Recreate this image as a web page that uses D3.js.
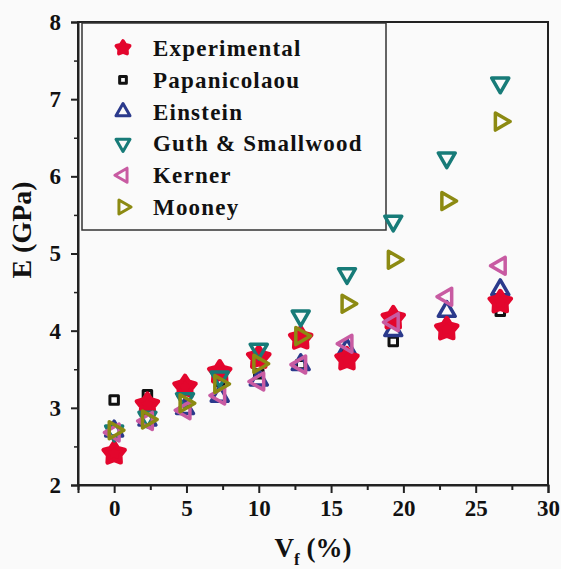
<!DOCTYPE html>
<html>
<head>
<meta charset="utf-8">
<script src="https://cdn.jsdelivr.net/npm/d3@7"></script>
<style>
  body { margin: 0; background: #fafafa; }
  svg { display: block; }
  text { font-family: "Liberation Serif", "Times New Roman", serif; font-weight: bold; fill: #111; }
</style>
</head>
<body>
<svg id="chart"></svg>
<script>
// volume fraction of filler (%)
const vf = [0, 2.3, 4.9, 7.3, 10.0, 12.9, 16.1, 19.3, 23.0, 26.7];

// modulus values (GPa) for each series
const experimental = [2.41, 3.04, 3.27, 3.46, 3.65, 3.90, 3.63, 4.16, 4.02, 4.37];
const papanicolaou = [3.10, 3.17, 3.24, 3.34, 3.44, 3.56, 3.69, 3.86, 4.03, 4.25];
const einstein     = [2.70, 2.84, 2.99, 3.15, 3.36, 3.56, 3.76, 4.00, 4.25, 4.53];
const guth         = [2.70, 2.88, 3.12, 3.40, 3.76, 4.19, 4.74, 5.42, 6.24, 7.21];
const kerner       = [2.68, 2.83, 2.97, 3.16, 3.34, 3.56, 3.83, 4.11, 4.44, 4.84];
const mooney       = [2.71, 2.85, 3.06, 3.31, 3.57, 3.93, 4.35, 4.92, 5.68, 6.71];

const seriesNames = ["Experimental", "Papanicolaou", "Einstein", "Guth & Smallwood", "Kerner", "Mooney"];
const xTicks = [0, 5, 10, 15, 20, 25, 30];
const yTicks = [2, 3, 4, 5, 6, 7, 8];

const width = 561, height = 569;
const margin = {top: 22, right: 13, bottom: 84, left: 78};

const svg = d3.select("#chart").attr("width", width).attr("height", height);

const xScale = d3.scaleLinear().domain([-2.5, 30]).range([margin.left, width - margin.right]);
const yScale = d3.scaleLinear().domain([2, 8]).range([height - margin.bottom, margin.top]);

// a chubbier five point star than d3.symbolStar (like Origin's)
const fatStar = {
    draw(context, size) {
        let r = Math.sqrt(size / 2.2);
        let ri = r * 0.58;
        for (let k = 0; k < 10; k++) {
            let a = -Math.PI / 2 + k * Math.PI / 5;
            let rr = k % 2 === 0 ? r : ri;
            if (k === 0) context.moveTo(rr * Math.cos(a), rr * Math.sin(a));
            else context.lineTo(rr * Math.cos(a), rr * Math.sin(a));
        }
        context.closePath();
    }
};

// series styles (drawing order: back to front)
const series = [
    {name: "Papanicolaou", values: papanicolaou, type: d3.symbolSquare, size: 72, rot: 0, color: "#111", fill: "none", sw: 3},
    {name: "Einstein", values: einstein, type: d3.symbolTriangle, size: 125, rot: 0, color: "#2b3a8c", fill: "none", sw: 3.5},
    {name: "Experimental", values: experimental, type: fatStar, size: 270, rot: 0, color: "#e3062d", fill: "#e3062d", sw: 4.5},
    {name: "Guth & Smallwood", values: guth, type: d3.symbolTriangle, size: 125, rot: 180, color: "#177b78", fill: "none", sw: 3.5},
    {name: "Kerner", values: kerner, type: d3.symbolTriangle, size: 125, rot: -90, color: "#c85ba2", fill: "none", sw: 3.5},
    {name: "Mooney", values: mooney, type: d3.symbolTriangle, size: 125, rot: 90, color: "#8c8a12", fill: "none", sw: 3.5}
];

// frame
svg.append("rect")
    .attr("x", margin.left).attr("y", margin.top)
    .attr("width", width - margin.left - margin.right)
    .attr("height", height - margin.top - margin.bottom)
    .attr("fill", "#fafafa").attr("stroke", "#222").attr("stroke-width", 2);

// x axis
let xAxis = d3.axisBottom(xScale).tickValues(xTicks).tickSize(8).tickPadding(7).tickFormat(d3.format("d"));
let xAxisG = svg.append("g")
    .attr("transform", "translate(0," + (height - margin.bottom) + ")")
    .call(xAxis);
xAxisG.select(".domain").attr("stroke", "#222").attr("stroke-width", 2);
xAxisG.selectAll(".tick line").attr("stroke", "#222").attr("stroke-width", 2);
xAxisG.selectAll(".tick text").style("font-size", "23px").attr("fill", "#111");

let xMinor = d3.axisBottom(xScale).tickValues([-2.5, 2.5, 7.5, 12.5, 17.5, 22.5, 27.5]).tickSize(5).tickFormat("");
let xMinorG = svg.append("g")
    .attr("transform", "translate(0," + (height - margin.bottom) + ")")
    .call(xMinor);
xMinorG.select(".domain").remove();
xMinorG.selectAll(".tick line").attr("stroke", "#222").attr("stroke-width", 2);

// y axis
let yAxis = d3.axisLeft(yScale).tickValues(yTicks).tickSize(7).tickPadding(10).tickFormat(d3.format("d"));
let yAxisG = svg.append("g")
    .attr("transform", "translate(" + margin.left + ",0)")
    .call(yAxis);
yAxisG.select(".domain").attr("stroke", "#222").attr("stroke-width", 2);
yAxisG.selectAll(".tick line").attr("stroke", "#222").attr("stroke-width", 2);
yAxisG.selectAll(".tick text").style("font-size", "23px").attr("fill", "#111");

let yMinor = d3.axisLeft(yScale).tickValues(d3.range(2.5, 8, 1)).tickSize(4).tickFormat("");
let yMinorG = svg.append("g")
    .attr("transform", "translate(" + margin.left + ",0)")
    .call(yMinor);
yMinorG.select(".domain").remove();
yMinorG.selectAll(".tick line").attr("stroke", "#222").attr("stroke-width", 1.5);

// axis titles
svg.append("text")
    .attr("transform", "translate(31,230) rotate(-90)")
    .attr("text-anchor", "middle")
    .style("font-size", "28px")
    .text("E (GPa)");

let xTitle = svg.append("text")
    .attr("x", 313).attr("y", 557)
    .attr("text-anchor", "middle")
    .style("font-size", "27px");
xTitle.append("tspan").text("V");
xTitle.append("tspan").attr("dy", 8).style("font-size", "17px").text("f");
xTitle.append("tspan").attr("dy", -8).text(" (%)");

// legend
let legendG = svg.append("g");
legendG.append("rect")
    .attr("x", 82).attr("y", 23).attr("width", 304).attr("height", 207)
    .attr("fill", "#fafafa").attr("stroke", "#333").attr("stroke-width", 1.5);

seriesNames.forEach(function(name, i) {
    let s = series.find(d => d.name === name);
    let ly = 48 + i * 31.8;
    let legendSize = s.type === fatStar ? 110 : (s.type === d3.symbolSquare ? 45 : 85);
    legendG.append("path")
        .attr("d", d3.symbol().type(s.type).size(legendSize)())
        .attr("transform", "translate(123," + ly + ") rotate(" + s.rot + ")")
        .attr("fill", s.fill)
        .attr("stroke", s.color)
        .attr("stroke-width", s.type === fatStar ? 3.5 : 3)
        .attr("stroke-linejoin", "round");
    legendG.append("text")
        .attr("x", 153).attr("y", ly)
        .attr("dy", "0.35em")
        .style("font-size", "23px")
        .style("letter-spacing", "1.2px")
        .text(name);
});

// points
series.forEach(function(s) {
    let symbol = d3.symbol().type(s.type).size(s.size);
    svg.append("g").selectAll("path")
        .data(s.values)
        .enter().append("path")
        .attr("d", symbol())
        .attr("transform", (d, i) => "translate(" + xScale(vf[i]) + "," + yScale(d) + ") rotate(" + s.rot + ")")
        .attr("fill", s.fill)
        .attr("stroke", s.color)
        .attr("stroke-width", s.sw)
        .attr("stroke-linejoin", "round");
});
</script>
</body>
</html>
